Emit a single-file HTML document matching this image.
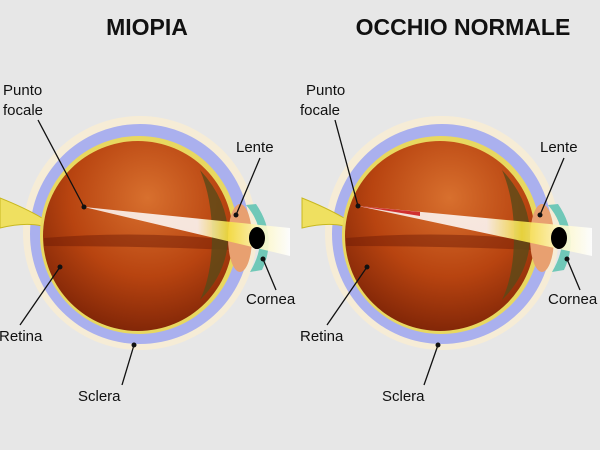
<!DOCTYPE html>
<html><head><meta charset="utf-8"><style>
html,body{margin:0;padding:0;background:#e7e7e7;}
svg{display:block}
text{font-family:"Liberation Sans",sans-serif;fill:#111}
</style></head><body>
<svg width="600" height="450" viewBox="0 0 600 450" xmlns="http://www.w3.org/2000/svg">
<defs>
<radialGradient id="org" cx="0.55" cy="0.3" r="0.75">
<stop offset="0" stop-color="#d8702e"/><stop offset="0.55" stop-color="#b84410"/><stop offset="1" stop-color="#7a2206"/>
</radialGradient>
<linearGradient id="beam" x1="0" y1="0" x2="1" y2="0">
<stop offset="0" stop-color="#fff" stop-opacity="0.9"/><stop offset="0.55" stop-color="#fff" stop-opacity="0.95"/><stop offset="0.7" stop-color="#f4e040"/><stop offset="0.85" stop-color="#fff8c0"/><stop offset="1" stop-color="#fff"/>
</linearGradient>
<g id="eye">
<circle cx="140" cy="233" r="117" fill="#f6ecd6"/>
<circle cx="140" cy="234" r="110" fill="#aab0ee"/>
<path d="M0,198 Q25,208 42,218 L42,226 Q25,222 0,228 Z" fill="#efe060" stroke="#c8b820" stroke-width="1"/>
<circle cx="139" cy="235" r="99" fill="#e8d860"/>
<circle cx="138" cy="236" r="95" fill="url(#org)"/>
<path d="M44,238 Q140,230 232,240 L232,250 Q140,246 44,246 Z" fill="#6a1804" opacity="0.45"/>
<path d="M200,170 Q228,200 228,236 Q228,272 200,300 Q212,275 212,236 Q212,198 200,170Z" fill="#5a4a18" opacity="0.8"/>
<ellipse cx="240" cy="238" rx="12" ry="34" fill="#e8a070"/>
<path d="M246,205 Q272,235 250,272 L262,270 Q278,236 256,204Z" fill="#70c8b8"/>
<ellipse cx="257" cy="238" rx="8" ry="11" fill="#000"/>
</g>
</defs>
<text x="147" y="35" font-size="23" font-weight="bold" text-anchor="middle">MIOPIA</text>
<text x="463" y="35" font-size="23" font-weight="bold" text-anchor="middle">OCCHIO NORMALE</text>

<use href="#eye"/>
<polygon points="84,207 290,228 290,256" fill="url(#beam)" opacity="0.9"/>
<ellipse cx="257" cy="238" rx="8" ry="11" fill="#000"/>

<g transform="translate(302,0)"><use href="#eye"/></g>
<polygon points="358,206 592,228 592,256" fill="url(#beam)" opacity="0.9"/>
<path d="M358,206 L420,212 L420,216Z" fill="#d03030"/>
<ellipse cx="559" cy="238" rx="8" ry="11" fill="#000"/>

<g font-size="15">
<text x="3" y="95">Punto</text><text x="3" y="115">focale</text>
<text x="236" y="152">Lente</text>
<text x="246" y="304">Cornea</text>
<text x="-1" y="341">Retina</text>
<text x="78" y="401">Sclera</text>
<text x="306" y="95">Punto</text><text x="300" y="115">focale</text>
<text x="540" y="152">Lente</text>
<text x="548" y="304">Cornea</text>
<text x="300" y="341">Retina</text>
<text x="382" y="401">Sclera</text>
</g>
<g stroke="#111" stroke-width="1.3" fill="none">
<line x1="38" y1="120" x2="84" y2="207"/>
<line x1="260" y1="158" x2="236" y2="215"/>
<line x1="276" y1="290" x2="263" y2="259"/>
<line x1="20" y1="325" x2="60" y2="267"/>
<line x1="122" y1="385" x2="134" y2="345"/>
<line x1="335" y1="120" x2="358" y2="206"/>
<line x1="564" y1="158" x2="540" y2="215"/>
<line x1="580" y1="290" x2="567" y2="259"/>
<line x1="327" y1="325" x2="367" y2="267"/>
<line x1="424" y1="385" x2="438" y2="345"/>
</g>
<g fill="#111">
<circle cx="84" cy="207" r="2.5"/><circle cx="236" cy="215" r="2.5"/><circle cx="263" cy="259" r="2.5"/><circle cx="60" cy="267" r="2.5"/><circle cx="134" cy="345" r="2.5"/>
<circle cx="358" cy="206" r="2.5"/><circle cx="540" cy="215" r="2.5"/><circle cx="567" cy="259" r="2.5"/><circle cx="367" cy="267" r="2.5"/><circle cx="438" cy="345" r="2.5"/>
</g>
</svg>
</body></html>
